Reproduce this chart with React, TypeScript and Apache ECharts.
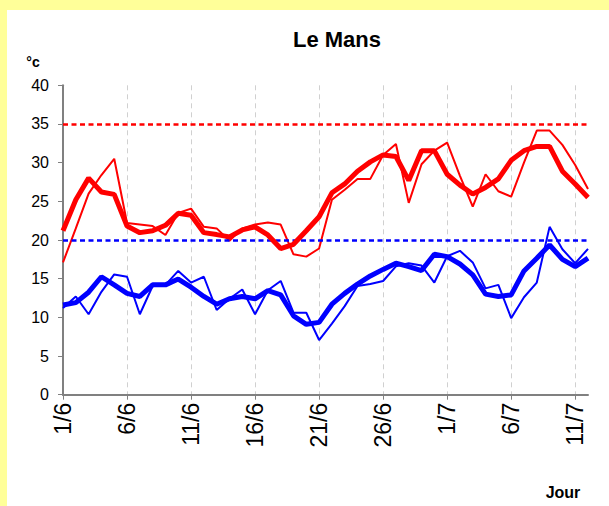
import React, { useEffect, useRef } from "react";
import * as echarts from "echarts";

const days = [
  "1/6", "2/6", "3/6", "4/6", "5/6", "6/6", "7/6", "8/6", "9/6", "10/6",
  "11/6", "12/6", "13/6", "14/6", "15/6", "16/6", "17/6", "18/6", "19/6", "20/6",
  "21/6", "22/6", "23/6", "24/6", "25/6", "26/6", "27/6", "28/6", "29/6", "30/6",
  "1/7", "2/7", "3/7", "4/7", "5/7", "6/7", "7/7", "8/7", "9/7", "10/7",
  "11/7", "12/7",
];

const maxDaily = [
  17.1, 21.5, 26.0, 28.4, 30.5, 22.2, 22.0, 21.8, 20.65, 23.5,
  24.05, 21.7, 21.5, 19.9, 21.5, 22.0, 22.25, 22.0, 18.15, 17.85,
  18.9, 25.2, 26.5, 27.9, 27.9, 31.0, 32.4, 24.8, 29.8, 31.55,
  32.6, 28.3, 24.3, 28.5, 26.3, 25.6, 30.0, 34.15, 34.15, 32.3,
  29.7, 26.6,
];

const maxSmooth = [
  21.2, 25.2, 28.0, 26.2, 25.9, 21.8, 20.95, 21.2, 21.9, 23.45,
  23.2, 20.95, 20.7, 20.4, 21.3, 21.7, 20.65, 18.9, 19.45, 21.2,
  23.0, 26.1, 27.25, 28.9, 30.1, 31.0, 30.8, 27.7, 31.55, 31.55,
  28.5, 27.1, 25.95, 26.8, 27.9, 30.3, 31.55, 32.1, 32.1, 28.9,
  27.25, 25.5,
];

const minDaily = [
  11.2, 12.7, 10.4, 13.3, 15.55, 15.25, 10.4, 14.05, 14.2, 16.0,
  14.5, 15.25, 10.95, 12.4, 13.6, 10.4, 13.5, 14.7, 10.6, 10.6,
  7.07, 9.2, 11.45, 14.05, 14.3, 14.7, 16.6, 17.0, 16.7, 14.5,
  17.9, 18.6, 17.1, 13.75, 14.2, 9.9, 12.6, 14.5, 21.7, 18.8,
  17.0, 18.85,
];

const minSmooth = [
  11.6, 11.9, 13.25, 15.25, 14.2, 13.1, 12.7, 14.2, 14.2, 14.95,
  13.9, 12.7, 11.7, 12.4, 12.7, 12.4, 13.45, 12.9, 10.2, 9.1,
  9.35, 11.7, 13.1, 14.3, 15.35, 16.2, 17.0, 16.55, 16.05, 18.15,
  17.85, 16.9, 15.5, 13.0, 12.7, 12.9, 16.0, 17.65, 19.35, 17.5,
  16.55, 17.65,
];

const hotThreshold = 35;
const coolThreshold = 20;

const FONT = "'Liberation Sans', Arial, sans-serif";

export default function App() {
  const ref = useRef<HTMLDivElement>(null);

  useEffect(() => {
    if (!ref.current) return;
    const chart = echarts.init(ref.current, null, { renderer: "svg" });
    chart.setOption({
      animation: false,
      backgroundColor: "transparent",
      textStyle: { fontFamily: FONT },
      grid: { left: 63, right: 21, top: 85.3, bottom: 111.3 },
      xAxis: {
        type: "category",
        data: days,
        boundaryGap: false,
        axisLine: { lineStyle: { color: "#808080", width: 2 } },
        axisTick: {
          show: true,
          interval: 4,
          length: 5,
          lineStyle: { color: "#808080", width: 1 },
        },
        axisLabel: {
          interval: 4,
          rotate: 90,
          fontSize: 23,
          color: "#000",
          margin: 8,
          fontFamily: FONT,
        },
        splitLine: {
          show: true,
          interval: 4,
          lineStyle: { color: "#d0d0d0", width: 1, type: [5, 4] },
        },
      },
      yAxis: {
        type: "value",
        min: 0,
        max: 40,
        interval: 5,
        axisLine: { show: true, lineStyle: { color: "#808080", width: 2 } },
        axisTick: { show: true, length: 5, lineStyle: { color: "#808080" } },
        axisLabel: { fontSize: 16, color: "#000", margin: 14, fontFamily: FONT },
        splitLine: { show: false },
      },
      series: [
        {
          name: "Min",
          type: "line",
          data: minDaily,
          showSymbol: false,
          lineStyle: { color: "#0000ff", width: 2 },
          itemStyle: { color: "#0000ff" },
          z: 2,
        },
        {
          name: "Min lissé",
          type: "line",
          data: minSmooth,
          showSymbol: false,
          lineStyle: { color: "#0000ff", width: 5 },
          itemStyle: { color: "#0000ff" },
          z: 3,
        },
        {
          name: "Max",
          type: "line",
          data: maxDaily,
          showSymbol: false,
          lineStyle: { color: "#ff0000", width: 2 },
          itemStyle: { color: "#ff0000" },
          z: 4,
          markLine: {
            silent: true,
            symbol: ["none", "none"],
            label: { show: false },
            data: [
              { yAxis: hotThreshold, lineStyle: { color: "#ff0000", width: 2.5, type: [5, 3.5] } },
              { yAxis: coolThreshold, lineStyle: { color: "#0000ff", width: 2.5, type: [5, 3.5] } },
            ],
          },
        },
        {
          name: "Max lissé",
          type: "line",
          data: maxSmooth,
          showSymbol: false,
          lineStyle: { color: "#ff0000", width: 5 },
          itemStyle: { color: "#ff0000" },
          z: 5,
        },
      ],
      graphic: [
        {
          type: "text",
          x: 337,
          y: 39,
          style: {
            text: "Le Mans",
            fontSize: 22,
            fontWeight: "bold",
            fontFamily: FONT,
            fill: "#000",
            textAlign: "center",
            textVerticalAlign: "middle",
          },
        },
        {
          type: "text",
          x: 33,
          y: 62,
          style: {
            text: "°c",
            fontSize: 14,
            fontWeight: "bold",
            fontFamily: FONT,
            fill: "#000",
            textAlign: "center",
            textVerticalAlign: "middle",
          },
        },
        {
          type: "text",
          x: 563,
          y: 492,
          style: {
            text: "Jour",
            fontSize: 16,
            fontWeight: "bold",
            fontFamily: FONT,
            fill: "#000",
            textAlign: "center",
            textVerticalAlign: "middle",
          },
        },
      ],
    });
    return () => chart.dispose();
  }, []);

  return (
    <div
      style={{
        position: "fixed",
        left: 0,
        top: 0,
        width: 609,
        height: 506,
        background: "#ffff99",
        overflow: "hidden",
      }}
    >
      <div
        style={{
          position: "absolute",
          left: 7,
          top: 10,
          right: 0,
          bottom: 0,
          background: "#ffffff",
        }}
      />
      <div
        ref={ref}
        style={{ position: "absolute", left: 0, top: 0, width: 609, height: 506 }}
      />
    </div>
  );
}
